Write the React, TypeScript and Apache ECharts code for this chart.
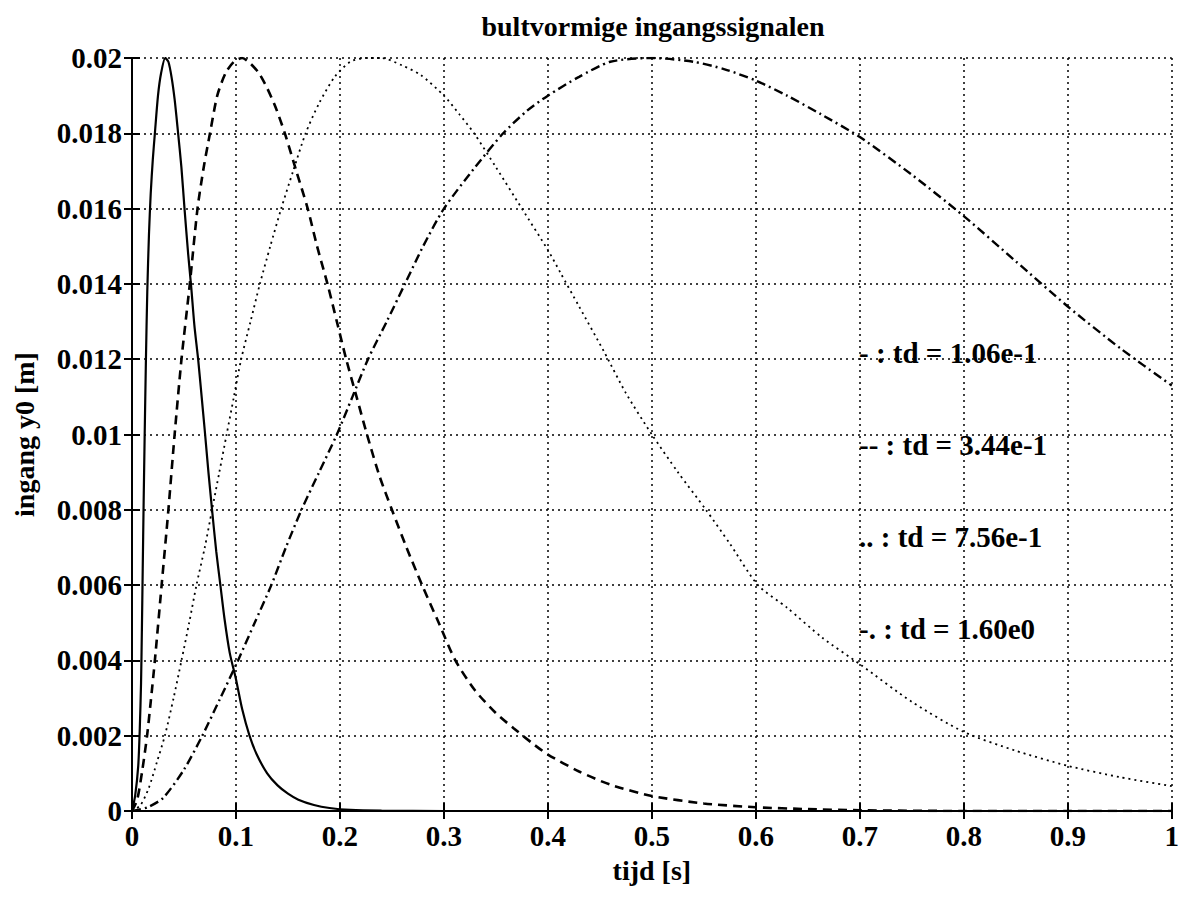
import React, { useEffect, useRef } from "react";
import * as echarts from "echarts";

// ---- data ----
const titleText = "bultvormige ingangssignalen";
const xName = "tijd [s]";
const yName = "ingang y0 [m]";

const tSolid = [0, 0.003, 0.006, 0.0075, 0.0087, 0.0095, 0.0103, 0.0112, 0.0122, 0.0134, 0.0147, 0.0163, 0.018, 0.02, 0.022, 0.025, 0.028, 0.032, 0.035, 0.038, 0.041, 0.044, 0.0475, 0.0505, 0.054, 0.057, 0.06, 0.0636, 0.067, 0.07, 0.0735, 0.077, 0.081, 0.085, 0.089, 0.094, 0.1, 0.106, 0.113, 0.12, 0.13, 0.14, 0.15, 0.16, 0.175, 0.19, 0.21, 0.24, 0.3, 0.4, 0.6, 0.8, 1.0];
const vSolid = [0, 0.0004, 0.0012, 0.0022, 0.0034, 0.0048, 0.0064, 0.0082, 0.01, 0.012, 0.0138, 0.0153, 0.0164, 0.0173, 0.018, 0.019, 0.0196, 0.02, 0.0199, 0.0195, 0.0189, 0.0181, 0.0171, 0.016, 0.0148, 0.0139, 0.0129, 0.012, 0.011, 0.0101, 0.009, 0.008, 0.0069, 0.006, 0.0051, 0.0042, 0.0035, 0.0027, 0.002, 0.0015, 0.001, 0.00068, 0.00046, 0.0003, 0.00016, 0.00008, 0.00003, 0.00001, 0, 0, 0, 0, 0];

const tDashed = [0, 0.005, 0.01, 0.0145, 0.018, 0.022, 0.0285, 0.035, 0.041, 0.0476, 0.0556, 0.063, 0.069, 0.075, 0.082, 0.09, 0.098, 0.106, 0.114, 0.122, 0.13, 0.138, 0.147, 0.158, 0.169, 0.178, 0.188, 0.197, 0.206, 0.216, 0.226, 0.238, 0.25, 0.264, 0.279, 0.295, 0.311, 0.33, 0.35, 0.367, 0.385, 0.4, 0.43, 0.46, 0.5, 0.55, 0.6, 0.65, 0.7, 0.8, 0.9, 1.0];
const vDashed = [0, 0.0003, 0.0011, 0.002, 0.0029, 0.004, 0.006, 0.008, 0.01, 0.012, 0.014, 0.016, 0.0171, 0.018, 0.019, 0.0196, 0.0199, 0.02, 0.01985, 0.0196, 0.0192, 0.0187, 0.018, 0.017, 0.016, 0.015, 0.014, 0.013, 0.012, 0.011, 0.01, 0.0089, 0.008, 0.007, 0.006, 0.005, 0.004, 0.0032, 0.0026, 0.0022, 0.0018, 0.0015, 0.00105, 0.0007, 0.0004, 0.0002, 0.0001, 0.00005, 0.00002, 0, 0, 0];

const tDotted = [0, 0.008, 0.016, 0.024, 0.0316, 0.04, 0.0476, 0.055, 0.062, 0.07, 0.077, 0.084, 0.091, 0.098, 0.105, 0.114, 0.123, 0.133, 0.1435, 0.155, 0.167, 0.18, 0.195, 0.21, 0.225, 0.24, 0.26, 0.2776, 0.3, 0.315, 0.329, 0.35, 0.375, 0.4, 0.412, 0.43, 0.454, 0.475, 0.5, 0.525, 0.552, 0.575, 0.602, 0.63, 0.664, 0.7, 0.75, 0.8, 0.85, 0.9, 0.95, 1.0];
const vDotted = [0, 0.00015, 0.0006, 0.0013, 0.002, 0.003, 0.004, 0.005, 0.006, 0.007, 0.008, 0.009, 0.01, 0.011, 0.012, 0.013, 0.014, 0.015, 0.016, 0.017, 0.018, 0.0188, 0.0195, 0.0199, 0.02, 0.02, 0.0198, 0.01955, 0.019, 0.0185, 0.018, 0.0171, 0.016, 0.0149, 0.0143, 0.0134, 0.0122, 0.0111, 0.01, 0.009, 0.008, 0.0071, 0.006, 0.0054, 0.0046, 0.0039, 0.0029, 0.0021, 0.0016, 0.0012, 0.0009, 0.00066];

const tDashDot = [0, 0.015, 0.03, 0.05, 0.0676, 0.085, 0.102, 0.118, 0.134, 0.148, 0.163, 0.18, 0.197, 0.212, 0.227, 0.245, 0.2625, 0.28, 0.3, 0.33, 0.357, 0.38, 0.4, 0.43, 0.46, 0.5, 0.54, 0.57, 0.6, 0.63, 0.663, 0.7, 0.75, 0.8, 0.85, 0.9, 0.95, 1.0];
const vDashDot = [0, 0.0001, 0.00035, 0.0011, 0.002, 0.003, 0.004, 0.005, 0.006, 0.007, 0.008, 0.009, 0.01, 0.011, 0.012, 0.013, 0.014, 0.015, 0.016, 0.0171, 0.018, 0.0186, 0.019, 0.0195, 0.0199, 0.02, 0.0199, 0.0197, 0.0194, 0.019, 0.0185, 0.0179, 0.0169, 0.0158, 0.0146, 0.0134, 0.0123, 0.0113];

const legendLabels = ["- : td = 1.06e-1", "-- : td = 3.44e-1", ".. : td = 7.56e-1", "-. : td = 1.60e0"];

const FONT = "'Liberation Serif', 'Times New Roman', serif";

function pairs(t: number[], v: number[]) {
  return t.map((x, i) => [x, v[i]]);
}

export default function App() {
  const ref = useRef<HTMLDivElement>(null);
  useEffect(() => {
    if (!ref.current) return;
    const chart = echarts.init(ref.current, null, { renderer: "svg" });
    const grid = { left: 132, right: 7, top: 58, bottom: 106 };
    const axisCommon = {
      axisLine: { show: true, lineStyle: { color: "#000", width: 2 } },
      axisTick: { show: true, inside: true, length: 8, lineStyle: { color: "#000", width: 2 } },
    };
    const labelStyle = { fontFamily: FONT, fontSize: 29, fontWeight: "bold", color: "#000" };
    const nameStyle = { fontFamily: FONT, fontSize: 28, fontWeight: "bold", color: "#000" };
    const lineBase = { type: "line", showSymbol: false, symbol: "none", smooth: 0.25, xAxisIndex: 0, yAxisIndex: 0 };
    chart.setOption({
      animation: false,
      backgroundColor: "#fff",
      title: {
        text: titleText,
        left: 648,
        textAlign: "center",
        top: 7,
        textStyle: { ...nameStyle },
      },
      grid,
      xAxis: [
        {
          type: "value",
          min: 0,
          max: 1,
          interval: 0.1,
          position: "bottom",
          name: xName,
          nameLocation: "middle",
          nameGap: 45,
          nameTextStyle: nameStyle,
          ...axisCommon,
          axisLabel: {
            ...labelStyle,
            margin: 10,
            formatter: (v: number) => String(Math.round(v * 10) / 10),
          },
          splitLine: { show: true, lineStyle: { color: "#000", type: [2, 4], width: 1.5 } },
        },
        {
          type: "value",
          min: 0,
          max: 1,
          interval: 0.1,
          position: "top",
          ...axisCommon,
          axisLabel: { show: false },
          splitLine: { show: false },
        },
      ],
      yAxis: [
        {
          type: "value",
          min: 0,
          max: 0.02,
          interval: 0.002,
          position: "left",
          name: yName,
          nameLocation: "middle",
          nameGap: 94,
          nameTextStyle: nameStyle,
          ...axisCommon,
          axisLabel: {
            ...labelStyle,
            margin: 10,
            formatter: (v: number) => String(Math.round(v * 1000) / 1000),
          },
          splitLine: { show: true, lineStyle: { color: "#000", type: [2, 4], width: 1.5 } },
        },
        {
          type: "value",
          min: 0,
          max: 0.02,
          interval: 0.002,
          position: "right",
          ...axisCommon,
          axisLabel: { show: false },
          splitLine: { show: false },
        },
      ],
      graphic: legendLabels.map((txt, i) => ({
        type: "text",
        left: 859,
        top: 338 + i * 92,
        style: { text: txt, fontFamily: FONT, fontSize: 29, fontWeight: "bold", fill: "#000" },
        z: 100,
      })),
      series: [
        { ...lineBase, name: "solid", data: pairs(tSolid, vSolid), lineStyle: { color: "#000", width: 2.2, type: "solid" } },
        { ...lineBase, name: "dashed", data: pairs(tDashed, vDashed), lineStyle: { color: "#000", width: 2.6, type: [9, 6] } },
        { ...lineBase, name: "dotted", data: pairs(tDotted, vDotted), lineStyle: { color: "#000", width: 1.8, type: [2, 4] } },
        { ...lineBase, name: "dashdot", data: pairs(tDashDot, vDashDot), lineStyle: { color: "#000", width: 2.4, type: [9, 4, 2, 4] } },
      ],
    });
    return () => chart.dispose();
  }, []);
  return (
    <div
      ref={ref}
      style={{ position: "fixed", left: 0, top: 0, width: 1182, height: 917, background: "#fff" }}
    />
  );
}
